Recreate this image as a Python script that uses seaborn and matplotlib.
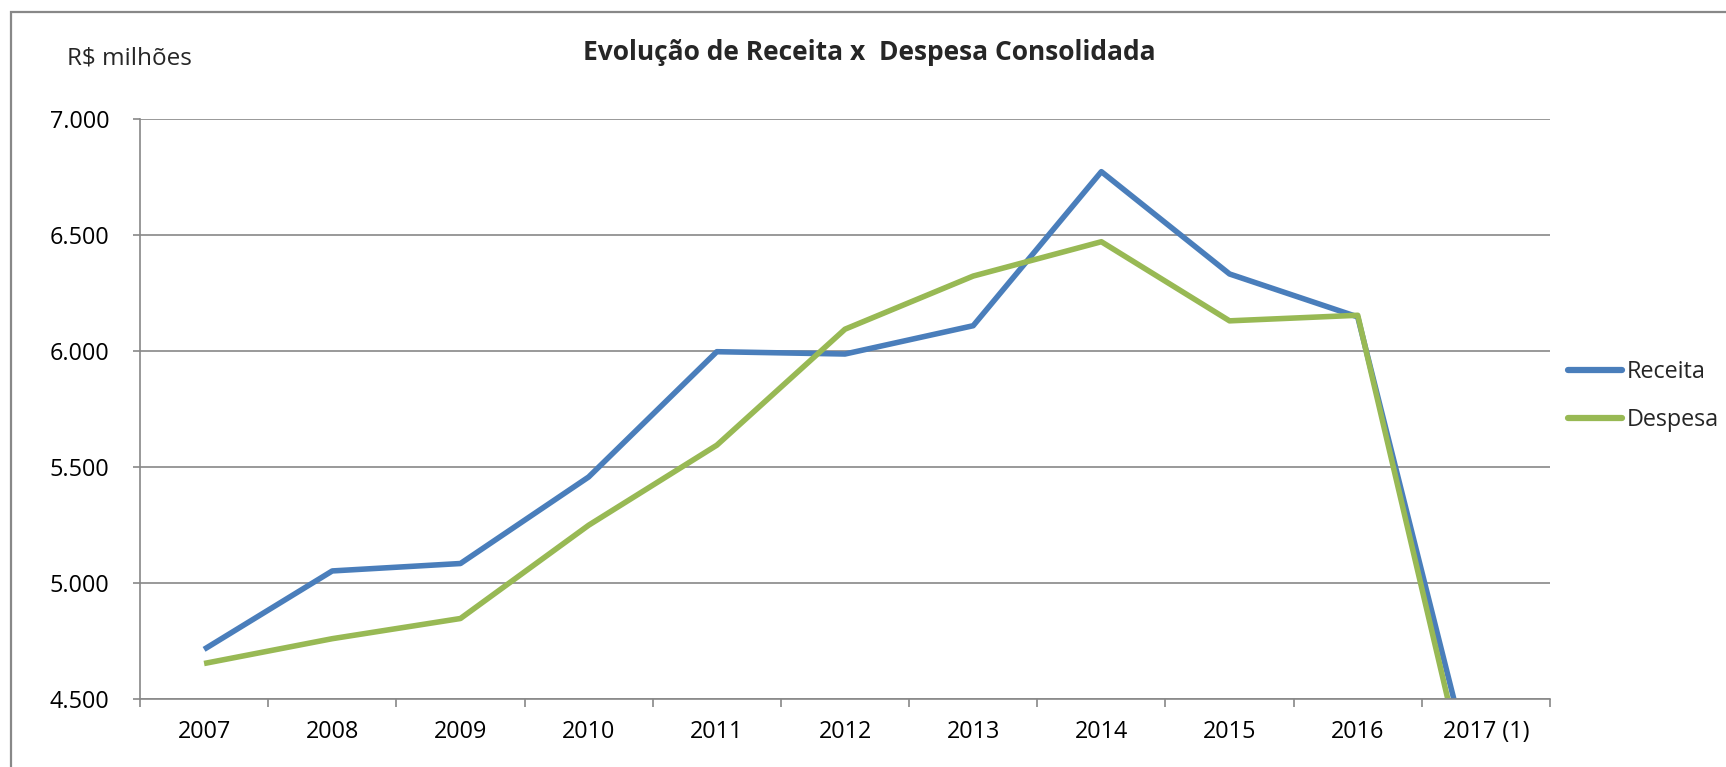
import matplotlib
matplotlib.use("Agg")
import matplotlib.pyplot as plt
from matplotlib.patches import Rectangle
from matplotlib.ticker import FuncFormatter, FixedLocator, NullFormatter
import seaborn as sns
import pandas as pd

years = ["2007", "2008", "2009", "2010", "2011", "2012", "2013", "2014", "2015", "2016", "2017 (1)"]
receita = [4714, 5052, 5084, 5457, 5997, 5987, 6109, 6773, 6332, 6147, 3950]
despesa = [4653, 4760, 4847, 5249, 5594, 6094, 6323, 6471, 6130, 6154, 3800]
series_names = ["Receita", "Despesa"]
colors = ["#4A7EBB", "#98B954"]

df = pd.DataFrame({
    "Ano": years * 2,
    "Valor": receita + despesa,
    "Série": [series_names[0]] * len(years) + [series_names[1]] * len(years),
})

sns.set_theme(style="white")
plt.rcParams["font.family"] = ["Open Sans", "DejaVu Sans"]

fig = plt.figure(figsize=(17.26, 7.67), dpi=100)
ax = fig.add_axes([140 / 1726, 1 - 699 / 767, (1550 - 140) / 1726, (699 - 119) / 767])

sns.lineplot(data=df, x="Ano", y="Valor", hue="Série", palette=colors,
             linewidth=4.0, sort=False, ax=ax, legend=False)

ax.set_ylim(4500, 7000)
ax.set_xlim(-0.5, len(years) - 0.5)
ax.set_yticks([4500, 5000, 5500, 6000, 6500, 7000])
ax.yaxis.set_major_formatter(FuncFormatter(lambda v, p: f"{int(v):,}".replace(",", ".")))
ax.set_xticks(range(len(years)))
ax.set_xticklabels(years)
ax.xaxis.set_minor_locator(FixedLocator([i - 0.5 for i in range(len(years) + 1)]))
ax.xaxis.set_minor_formatter(NullFormatter())
ax.tick_params(axis="x", which="major", length=0, pad=15, labelsize=16.8, colors="black")
ax.tick_params(axis="x", which="minor", length=5.8, width=1.2, color="#888888", direction="out", bottom=True)
ax.tick_params(axis="y", length=5, width=1.2, color="#888888", direction="out", left=True,
               labelsize=16.8, pad=17, colors="black")
ax.set_xlabel("")
ax.set_ylabel("")

ax.grid(axis="y", color="#888888", linewidth=1.2)
ax.set_axisbelow(True)
for s in ["top", "right"]:
    ax.spines[s].set_visible(False)
for s in ["left", "bottom"]:
    ax.spines[s].set_color("#888888")
    ax.spines[s].set_linewidth(1.2)

for ln in ax.lines:
    ln.set_solid_capstyle("butt")
    ln.set_clip_on(True)

# legend
handles = [plt.Line2D([0], [0], color=c, linewidth=4.5, solid_capstyle="round") for c in colors]
fig.legend(handles, series_names, loc="center left", bbox_to_anchor=(1568 / 1726, 1 - 396 / 767),
           frameon=False, fontsize=16.8, handlelength=2.3, handletextpad=0.2, labelspacing=1.0,
           borderaxespad=0, borderpad=0)

fig.text(869.5 / 1726, 1 - 52 / 767, "Evolução de Receita x  Despesa Consolidada",
         ha="center", va="center", fontsize=19, fontweight="bold")
fig.text(67 / 1726, 1 - 58 / 767, "R$ milhões", ha="left", va="center", fontsize=17.5)

fig.patches.append(Rectangle((11 / 1726, -0.2), 1.5, 1.2 - 12 / 767, transform=fig.transFigure,
                             fill=False, edgecolor="#888888", linewidth=1.6))

fig.savefig("out.png", dpi=100, facecolor="white")
